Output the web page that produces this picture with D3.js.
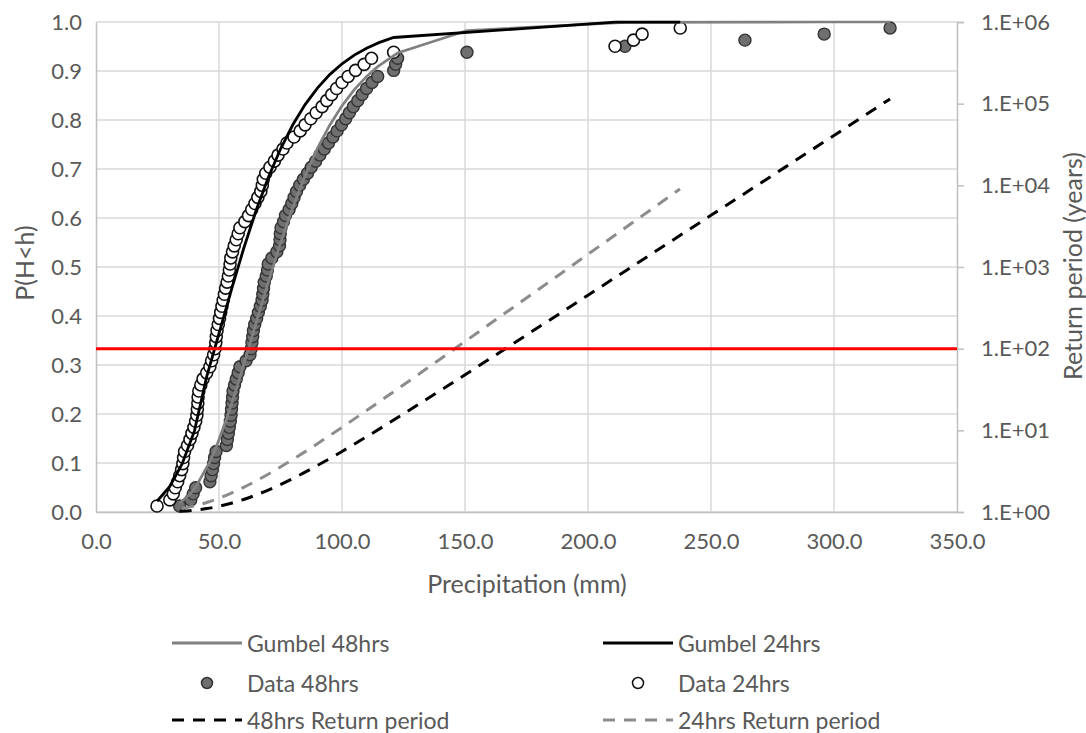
<!DOCTYPE html>
<html>
<head>
<meta charset="utf-8">
<script src="https://cdn.jsdelivr.net/npm/d3@7"></script>
<style>
  body { margin: 0; background: #fff; }
  svg text { font-family: Lato, "Open Sans", sans-serif; fill: #595959; }
</style>
</head>
<body>
<svg id="chart" width="1086" height="733"></svg>
<script>
// Weibull plotting positions shared by both samples (80 events each)
const plottingPosition = [
  0.0123,0.0247,0.0370,0.0494,0.0617,0.0741,0.0864,0.0988,0.1111,0.1235,
  0.1358,0.1481,0.1605,0.1728,0.1852,0.1975,0.2099,0.2222,0.2346,0.2469,
  0.2593,0.2716,0.2840,0.2963,0.3086,0.3210,0.3333,0.3457,0.3580,0.3704,
  0.3827,0.3951,0.4074,0.4198,0.4321,0.4444,0.4568,0.4691,0.4815,0.4938,
  0.5062,0.5185,0.5309,0.5432,0.5556,0.5679,0.5802,0.5926,0.6049,0.6173,
  0.6296,0.6420,0.6543,0.6667,0.6790,0.6914,0.7037,0.7160,0.7284,0.7407,
  0.7531,0.7654,0.7778,0.7901,0.8025,0.8148,0.8272,0.8395,0.8519,0.8642,
  0.8765,0.8889,0.9012,0.9136,0.9259,0.9383,0.9506,0.9630,0.9753,0.9877
];

// Sorted annual maxima, 24-hour precipitation (mm)
const data24Precip = [
  24.8,30.0,31.4,32.2,33.2,34.0,34.8,35.3,35.6,36.0,
  37.2,38.2,39.0,39.8,40.5,41.0,41.2,41.4,41.5,41.8,
  42.6,43.5,45.0,46.3,47.0,47.8,48.4,48.7,48.9,49.2,
  49.7,50.2,50.7,51.2,51.7,52.2,52.7,53.3,53.8,54.2,
  54.5,54.8,55.5,56.2,57.0,57.8,58.5,60.5,62.0,63.3,
  64.6,65.8,67.0,67.6,68.0,69.0,70.7,72.5,74.0,76.0,
  77.6,80.5,83.0,85.0,87.3,89.5,91.9,93.8,95.8,97.8,
  100.0,102.5,105.5,109.0,112.0,121.0,211.0,218.5,222.0,237.5
];

// Sorted annual maxima, 48-hour precipitation (mm)
const data48Precip = [
  34.0,38.5,39.5,40.5,46.3,46.8,47.3,47.8,48.2,48.8,
  53.0,53.4,53.8,54.2,54.6,54.9,55.1,55.3,55.5,55.7,
  56.3,57.0,57.8,58.5,61.0,62.6,63.1,63.4,63.7,64.0,
  64.5,65.3,66.0,66.8,67.5,67.8,68.1,68.4,69.2,69.7,
  70.0,71.5,73.5,74.6,74.8,74.9,75.2,76.2,77.0,78.5,
  79.6,80.5,81.5,82.8,84.3,86.0,87.5,89.3,91.0,92.8,
  94.5,96.3,98.0,99.8,101.5,103.0,104.6,106.4,108.2,110.0,
  112.2,114.5,121.0,121.8,122.6,150.8,215.0,263.8,296.0,322.8
];

// Fitted Gumbel distribution, 24 hours
const gumbel24Precip = [24.8,30,35,40,45,50,55,60,65,70,75,80,85,90,95,100,105,110,115,121,211,222,237.5];
const gumbel24Prob   = [0.022,0.052,0.098,0.165,0.2761,0.3643,0.4529,0.5372,0.6142,0.6822,0.7408,0.7903,0.8314,0.8652,0.8926,0.9147,0.9325,0.9466,0.9579,0.9684,0.9996,0.9998,0.9999];

// Fitted Gumbel distribution, 48 hours
const gumbel48Precip = [34,38.5,40.5,46.3,48.8,53,55.7,58.5,63,68,74.8,80,85,90,95,100,105,110,114.5,122.6,150.8,215,263.8,296,322.8];
const gumbel48Prob   = [0.0177,0.0379,0.0506,0.1025,0.1316,0.1886,0.2297,0.2749,0.3508,0.4359,0.5460,0.6218,0.6862,0.7420,0.7894,0.8291,0.8620,0.8890,0.9089,0.9366,0.9825,0.9991,0.9999,1.0,1.0];

// Return periods (years), secondary axis
const rp48Precip = [34,40,45,50,55,60,70,80,90,100,110,120,140,160,180,200,220,240,260,280,300,322.8];
const rp48Years  = [1.020,1.053,1.101,1.175,1.280,1.423,1.857,2.569,3.709,5.51,8.35,12.8,30.76,74.96,183.9,451.8,1112,2737,6739,16590,40880,114200];
const rp24Precip = [35,40,45,50,55,60,70,80,90,100,120,140,160,180,200,220,237.4];
const rp24Years  = [1.103,1.186,1.308,1.477,1.704,2.004,2.904,4.397,6.853,10.89,28.30,74.92,200,534.7,1431,3832,9034];

// 100-year design level
const designReturnPeriod = 100;

// Axis ticks
const xTicks = [0,50,100,150,200,250,300,350];
const yTicks = [0,0.1,0.2,0.3,0.4,0.5,0.6,0.7,0.8,0.9,1.0];
const yRightTicks = [1,10,100,1000,10000,100000,1000000];

const legendItems = [
  { label: "Gumbel 48hrs",        type: "line",   color: "#808080", col: 0, row: 0 },
  { label: "Gumbel 24hrs",        type: "line",   color: "#000000", col: 1, row: 0 },
  { label: "Data 48hrs",          type: "filled", col: 0, row: 1 },
  { label: "Data 24hrs",          type: "open",   col: 1, row: 1 },
  { label: "48hrs Return period", type: "dash",   color: "#000000", col: 0, row: 2 },
  { label: "24hrs Return period", type: "dash",   color: "#8c8c8c", col: 1, row: 2 }
];

const svg = d3.select("#chart");
const frame = { left: 96, right: 957, top: 22, bottom: 512 };

const x = d3.scaleLinear().domain([0, 350]).range([frame.left, frame.right]);
const y = d3.scaleLinear().domain([0, 1]).range([frame.bottom, frame.top]);
const yR = d3.scaleLog().domain([1, 1e6]).range([frame.bottom, frame.top]);

const TICK_FONT = 22, TITLE_FONT = 25, LEGEND_FONT = 23;
const gridColor = "#d9d9d9";
const axisColor = "#bfbfbf";

// Grid
const grid = svg.append("g");
grid.selectAll("line.h").data(yTicks).join("line")
  .attr("x1", x(0)).attr("x2", x(350))
  .attr("y1", d => y(d)).attr("y2", d => y(d))
  .attr("stroke", gridColor).attr("stroke-width", 1.5);
grid.selectAll("line.v").data(xTicks.filter(d => d > 0 && d < 350)).join("line")
  .attr("x1", d => x(d)).attr("x2", d => x(d))
  .attr("y1", y(0)).attr("y2", y(1))
  .attr("stroke", gridColor).attr("stroke-width", 1.5);

// Left axis
const gL = svg.append("g").attr("transform", `translate(${frame.left},0)`)
  .call(d3.axisLeft(y).tickValues(yTicks).tickFormat(d3.format(".1f")).tickSize(0).tickPadding(14));
gL.select(".domain").attr("stroke", axisColor).attr("stroke-width", 1.5);
gL.selectAll("text").style("font-size", TICK_FONT + "px").attr("fill", "#595959");

// Bottom axis
const gB = svg.append("g").attr("transform", `translate(0,${frame.bottom})`)
  .call(d3.axisBottom(x).tickValues(xTicks).tickFormat(d3.format(".1f")).tickSize(0).tickPadding(21));
gB.select(".domain").attr("stroke", axisColor).attr("stroke-width", 1.5);
gB.selectAll("text").style("font-size", TICK_FONT + "px").attr("fill", "#595959");

// Right (log) axis
const gR = svg.append("g").attr("transform", `translate(${frame.right},0)`)
  .call(d3.axisRight(yR).tickValues(yRightTicks)
    .tickFormat(d => "1.E+" + String(Math.round(Math.log10(d))).padStart(2, "0"))
    .tickSize(7).tickPadding(17));
gR.select(".domain").attr("stroke", axisColor).attr("stroke-width", 1.5);
gR.selectAll(".tick line").attr("stroke", axisColor).attr("stroke-width", 1.5);
gR.selectAll("text").style("font-size", TICK_FONT + "px").attr("fill", "#595959");

// Axis titles
svg.append("text").attr("x", 527).attr("y", 583).attr("text-anchor", "middle")
  .attr("dominant-baseline", "central").style("font-size", TITLE_FONT + "px").text("Precipitation (mm)");
svg.append("text").attr("transform", "translate(24,263) rotate(-90)").attr("text-anchor", "middle")
  .attr("dominant-baseline", "central").style("font-size", TITLE_FONT + "px").text("P(H<h)");
svg.append("text").attr("transform", "translate(1072,266) rotate(-90)").attr("text-anchor", "middle")
  .attr("dominant-baseline", "central").style("font-size", TITLE_FONT + "px").text("Return period (years)");

const plot = svg.append("g");

// Observed data points
const pts48 = data48Precip.map((p, i) => [p, plottingPosition[i]]);
const pts24 = data24Precip.map((p, i) => [p, plottingPosition[i]]);
plot.selectAll("circle.d48").data(pts48).join("circle")
  .attr("cx", d => x(d[0])).attr("cy", d => y(d[1])).attr("r", 6)
  .attr("fill", "#6f6f6f").attr("stroke", "#333").attr("stroke-width", 1.4);
plot.selectAll("circle.d24").data(pts24).join("circle")
  .attr("cx", d => x(d[0])).attr("cy", d => y(d[1])).attr("r", 6)
  .attr("fill", "#fff").attr("stroke", "#111").attr("stroke-width", 1.6);

// Gumbel curves
const lineP = d3.line().x(d => x(d[0])).y(d => y(d[1]));
plot.append("path").datum(gumbel48Precip.map((p, i) => [p, gumbel48Prob[i]]))
  .attr("d", lineP).attr("fill", "none").attr("stroke", "#808080").attr("stroke-width", 2.7);
plot.append("path").datum(gumbel24Precip.map((p, i) => [p, gumbel24Prob[i]]))
  .attr("d", lineP).attr("fill", "none").attr("stroke", "#000").attr("stroke-width", 2.8);

// Return period curves
const lineR = d3.line().x(d => x(d[0])).y(d => yR(d[1])).curve(d3.curveMonotoneX);
plot.append("path").datum(rp48Precip.map((p, i) => [p, rp48Years[i]]))
  .attr("d", lineR).attr("fill", "none").attr("stroke", "#000").attr("stroke-width", 3)
  .attr("stroke-dasharray", "12,9");
plot.append("path").datum(rp24Precip.map((p, i) => [p, rp24Years[i]]))
  .attr("d", lineR).attr("fill", "none").attr("stroke", "#8c8c8c").attr("stroke-width", 3)
  .attr("stroke-dasharray", "12,9");

// 100-year level
plot.append("line")
  .attr("x1", x(0)).attr("x2", x(350))
  .attr("y1", yR(designReturnPeriod)).attr("y2", yR(designReturnPeriod))
  .attr("stroke", "#ff0000").attr("stroke-width", 3);

// Legend
const colX = [172, 603], rowY = [643, 683, 720], symW = 70, textGap = 5;
const leg = svg.append("g");
legendItems.forEach(it => {
  const x0 = colX[it.col], yy = rowY[it.row];
  if (it.type === "line" || it.type === "dash") {
    leg.append("line").attr("x1", x0).attr("x2", x0 + symW).attr("y1", yy).attr("y2", yy)
      .attr("stroke", it.color).attr("stroke-width", 3)
      .attr("stroke-dasharray", it.type === "dash" ? "12,9" : null);
  } else {
    leg.append("circle").attr("cx", x0 + symW / 2).attr("cy", yy).attr("r", 5.5)
      .attr("fill", it.type === "filled" ? "#6f6f6f" : "#fff")
      .attr("stroke", it.type === "filled" ? "#333" : "#111").attr("stroke-width", 1.5);
  }
  leg.append("text").attr("x", x0 + symW + textGap).attr("y", yy)
    .attr("dominant-baseline", "central").style("font-size", LEGEND_FONT + "px").text(it.label);
});
</script>
</body>
</html>
